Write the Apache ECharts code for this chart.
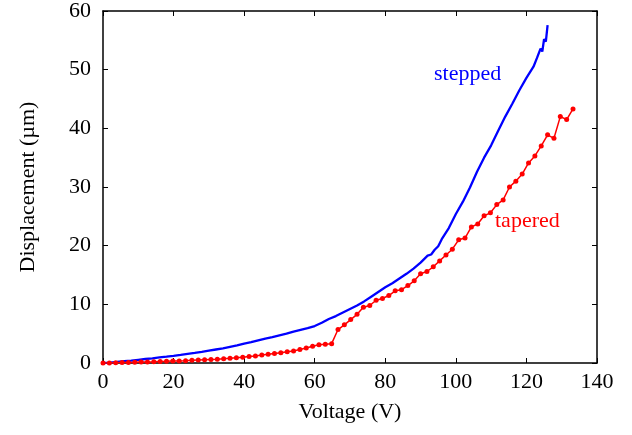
<!DOCTYPE html>
<html>
<head>
<meta charset="utf-8">
<script src="https://cdn.jsdelivr.net/npm/echarts@6/dist/echarts.min.js"></script>
<style>html,body{margin:0;padding:0;background:#fff}#c{width:632px;height:435px}</style>
</head>
<body>
<div id="c"></div>
<script>
// Stepped (blue) data: voltage (V) and displacement (µm)
const steppedV = [0,2,4,6,8,10,12,14,16,18,20,22,24,26,28,30,32,34,36,38,40,42,44,46,48,50,52,54,56,58,60,62,64,66,68,70,72,74,76,78,80,82,84,86,88,90,92,93,94,95,96,98,100,102,104,106,108,110,112,114,116,118,120,122,123,123.5,124,124.5,125,125.5,126];
const steppedD = [0,0.08,0.18,0.3,0.42,0.55,0.68,0.8,0.95,1.08,1.22,1.38,1.55,1.72,1.9,2.1,2.3,2.5,2.75,3.0,3.3,3.55,3.85,4.15,4.4,4.7,5.0,5.35,5.65,5.95,6.3,6.85,7.5,8.0,8.6,9.2,9.8,10.5,11.3,12.1,12.9,13.6,14.4,15.2,16.1,17.1,18.3,18.5,19.3,19.9,21.1,23.0,25.4,27.5,29.9,32.6,35.0,37.1,39.6,42.0,44.2,46.5,48.6,50.5,52.0,51.7,53.6,53.1,55.2,54.8,57.6];

// Tapered (red) data
const taperedV = [0,1.8,3.6,5.4,7.2,9,10.8,12.6,14.4,16.2,18,19.8,21.6,23.4,25.2,27,28.8,30.6,32.4,34.2,36,37.8,39.6,41.4,43.2,45,46.8,48.6,50.4,52.2,54,55.8,57.6,59.4,61.2,63,64.8,66.6,68.4,70.2,72,73.8,75.6,77.4,79.2,81,82.8,84.6,86.4,88.2,90,91.8,93.6,95.4,97.2,99,100.8,102.6,104.4,106.2,108,109.8,111.6,113.4,115.2,117,118.8,120.6,122.4,124.2,126,127.8,129.6,131.4,133.2];
const taperedD = [0,0.02,0.05,0.08,0.1,0.12,0.15,0.18,0.2,0.25,0.28,0.32,0.36,0.4,0.45,0.5,0.55,0.6,0.65,0.72,0.8,0.9,1.0,1.1,1.2,1.35,1.5,1.6,1.75,1.9,2.05,2.3,2.55,2.85,3.1,3.2,3.3,5.7,6.5,7.4,8.3,9.5,9.8,10.7,11.0,11.5,12.3,12.5,13.2,14.0,15.2,15.6,16.4,17.4,18.4,19.4,21.0,21.3,23.2,23.7,25.1,25.6,27.0,27.8,30.0,31.0,32.2,34.1,35.3,37.0,38.9,38.3,42.0,41.5,43.3];

const xTicks = {min:0, max:140, interval:20};
const yTicks = {min:0, max:60, interval:10};

const font = '"Liberation Serif", "DejaVu Serif", serif';
const fs = 22;
const zip = (a,b) => a.map((v,i)=>[v,b[i]]);

const axisCommon = {
  axisLine:{show:true, onZero:false, lineStyle:{color:'#000', width:1.5}},
  axisTick:{show:true, inside:true, length:5, lineStyle:{color:'#000', width:1}},
  splitLine:{show:false}
};

const chart = echarts.init(document.getElementById('c'), null, {renderer:'canvas'});
chart.setOption({
  animation:false,
  backgroundColor:'#fff',
  grid:{left:103, right:35, top:9.5, bottom:72, containLabel:false},
  xAxis:[
    Object.assign({type:'value', position:'bottom', min:xTicks.min, max:xTicks.max, interval:xTicks.interval,
      name:'Voltage (V)', nameLocation:'middle', nameGap:38,
      nameTextStyle:{fontFamily:font, fontSize:fs, color:'#000'},
      axisLabel:{fontFamily:font, fontSize:fs, color:'#000', margin:8}}, axisCommon),
    Object.assign({type:'value', position:'top', min:xTicks.min, max:xTicks.max, interval:xTicks.interval,
      axisLabel:{show:false}}, axisCommon)
  ],
  yAxis:[
    Object.assign({type:'value', position:'left', min:yTicks.min, max:yTicks.max, interval:yTicks.interval,
      name:'Displacement (µm)', nameLocation:'middle', nameGap:64,
      nameTextStyle:{fontFamily:font, fontSize:fs, color:'#000'},
      axisLabel:{fontFamily:font, fontSize:fs, color:'#000', margin:12}}, axisCommon),
    Object.assign({type:'value', position:'right', min:yTicks.min, max:yTicks.max, interval:yTicks.interval,
      axisLabel:{show:false}}, axisCommon)
  ],
  series:[
    {type:'line', name:'stepped', data:zip(steppedV, steppedD), showSymbol:false, symbol:'none',
     lineStyle:{color:'#0000ff', width:2.3}, itemStyle:{color:'#0000ff'}},
    {type:'line', name:'tapered', data:zip(taperedV, taperedD), symbol:'circle', symbolSize:5, showSymbol:true,
     lineStyle:{color:'#ff0000', width:1.5}, itemStyle:{color:'#ff0000'}}
  ],
  graphic:[
    {type:'text', left:434, top:63, style:{text:'stepped', fill:'#0000ff', font:fs + 'px ' + font}},
    {type:'text', left:495, top:210, style:{text:'tapered', fill:'#ff0000', font:fs + 'px ' + font}}
  ]
});
</script>
</body>
</html>
